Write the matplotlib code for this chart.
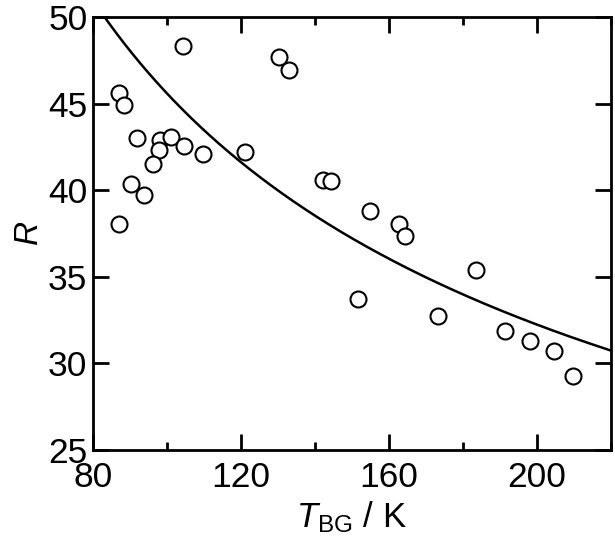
import numpy as np
import matplotlib
matplotlib.use("Agg")
import matplotlib.pyplot as plt
from matplotlib.ticker import MultipleLocator

plt.rcParams['font.family'] = ['Liberation Sans', 'DejaVu Sans']
plt.rcParams['mathtext.fontset'] = 'custom'
plt.rcParams['mathtext.rm'] = 'Liberation Sans'
plt.rcParams['mathtext.it'] = 'Liberation Sans:italic'

T_bg = [104.2, 87.0, 88.4, 91.9, 98.0, 101.2, 104.5, 97.8, 109.8, 121.2,
        96.1, 90.2, 93.8, 87.0, 130.3, 132.9, 142.2, 144.4, 154.9, 162.7,
        164.2, 183.6, 173.3, 191.4, 198.2, 204.6, 209.7, 151.6]
R_vals = [48.36, 45.65, 44.93, 43.02, 42.9, 43.08, 42.54, 42.31, 42.13, 42.19,
          41.5, 40.39, 39.73, 38.04, 47.7, 46.96, 40.62, 40.56, 38.83, 38.08,
          37.39, 35.41, 32.77, 31.87, 31.31, 30.7, 29.3, 33.74]

fit_coef = 456.0  # R = a / sqrt(T)
fit_exp = -0.5

fig = plt.figure(figsize=(6.15, 5.49), dpi=100)
ax = fig.add_axes([93 / 615, 1 - 450 / 549, (611 - 93) / 615, (450 - 17.3) / 549])

tc = np.linspace(80, 220, 400)
ax.plot(tc, fit_coef * tc ** fit_exp, color='black', lw=1.8, zorder=2)
ax.plot(T_bg, R_vals, 'o', ms=11.5, mfc='white', mec='black', mew=1.5, zorder=3)

ax.set_xlim(80, 220)
ax.set_ylim(25, 50)
ax.xaxis.set_major_locator(MultipleLocator(40))
ax.xaxis.set_minor_locator(MultipleLocator(20))
ax.yaxis.set_major_locator(MultipleLocator(5))

for s in ax.spines.values():
    s.set_linewidth(2)
ax.tick_params(which='both', direction='in', top=True, right=True, width=2,
               labelsize=25.5)
ax.tick_params(axis='x', which='both', pad=8)
ax.tick_params(axis='y', which='both', pad=4)
ax.tick_params(which='major', length=11.5)
ax.tick_params(which='minor', length=6)

ax.set_xlabel(r'$T_{\mathrm{BG}}$ / K', fontsize=25, labelpad=4)
ax.set_ylabel(r'$R$', fontsize=24, labelpad=2)

fig.savefig('out.png', dpi=100)
